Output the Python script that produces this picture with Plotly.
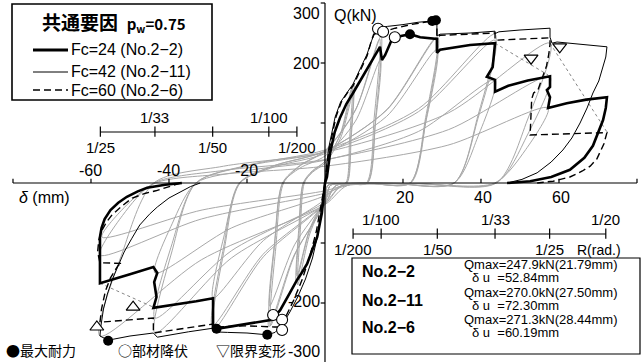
import plotly.graph_objects as go

W, H = 643, 362
X_RANGE = [-83.33, 81.54]
Y_RANGE = [-298.33, 305.0]

# ---------------- axis data ----------------
x_ticks = [-80, -60, -40, -20, 20, 40, 60, 80]
x_labels_neg = [-60, -40, -20]
x_labels_pos = [20, 40, 60]
y_ticks = [-300, -200, -100, 100, 200, 300]
y_labels = [300, 200, -200, -300]

# drift angle scale R(rad.) -> displacement (mm)
r_left_names = ['1/25', '1/33', '1/50', '1/100', '1/200']
r_left_mm = [-57.6, -43.6, -28.8, -14.4, -7.2]
r_left_above = [False, True, False, True, False]
r_right_names = ['1/200', '1/100', '1/50', '1/33', '1/25', '1/20']
r_right_mm = [7.2, 14.4, 28.8, 43.6, 57.6, 72.0]
r_right_above = [False, True, False, True, False, True]

# ---------------- gray inner loops (x mm, Q kN) ----------------
gray24_x = [
    [-7.2, -6.5, -5.5, -3.2, 0, 4.0, 7.2, 6.5, 5.5, 2.9, 0.7, 0, -4.0, -7.2],
    [-14.2, -12.8, -10.8, -6.4, 0, 7.8, 14.2, 12.8, 10.8, 5.7, 1.4, 0, -7.8, -14.2],
    [-28.7, -25.8, -21.8, -12.9, 0, 15.8, 28.7, 25.8, 21.8, 11.5, 2.9, 0, -15.8, -28.7],
    [-43.6, -39.2, -33.1, -19.6, 0, 24.0, 43.6, 39.2, 33.1, 17.4, 4.4, 0, -24.0, -43.6],
    [-57.7, -51.9, -43.9, -26.0, 0, 31.7, 57.7, 51.9, 43.9, 23.1, 5.8, 0, -31.7, -57.7],
    [-57.2, -51.5, -43.5, -25.7, 0, 31.5, 57.2, 51.5, 43.5, 22.9, 5.7, 0, -31.5, -57.2],
]
gray24_q = [
    [-155, -70, 0, 18, 33, 75, 150, 68, 0, -1, -4, -22, -78, -155],
    [-205, -92, 0, 25, 45, 103, 205, 92, 0, -1, -4, -29, -103, -205],
    [-192, -86, 0, 27, 49, 111, 222, 100, 0, -1, -4, -27, -96, -192],
    [-150, -68, 0, 21, 38, 86, 172, 77, 0, -1, -4, -21, -75, -150],
    [-120, -54, 0, 21, 39, 89, 177, 80, 0, -1, -4, -17, -60, -120],
    [-90, -41, 0, 15, 28, 63, 125, 56, 0, -1, -3, -13, -45, -90],
]
gray42_x = [
    [-7.4, -6.7, -5.6, -3.3, 0, 4.1, 7.4, 6.7, 5.6, 3.0, 0.7, 0, -4.1, -7.4],
    [-14.4, -13.0, -10.9, -6.5, 0, 7.9, 14.4, 13.0, 10.9, 5.8, 1.4, 0, -7.9, -14.4],
    [-28.7, -25.8, -21.8, -12.9, 0, 15.8, 28.7, 25.8, 21.8, 11.5, 2.9, 0, -15.8, -28.7],
    [-43.6, -39.2, -33.1, -19.6, 0, 24.0, 43.6, 39.2, 33.1, 17.4, 4.4, 0, -24.0, -43.6],
    [-57.7, -51.9, -43.9, -26.0, 0, 31.7, 57.7, 51.9, 43.9, 23.1, 5.8, 0, -31.7, -57.7],
]
gray42_q = [
    [-165, -74, 0, 20, 36, 83, 165, 74, 0, -1, -4, -23, -83, -165],
    [-240, -108, 0, 29, 54, 123, 245, 110, 0, -1, -4, -34, -120, -240],
    [-245, -110, 0, 29, 53, 122, 243, 109, 0, -1, -4, -34, -123, -245],
    [-250, -113, 0, 30, 55, 124, 248, 112, 0, -1, -4, -35, -125, -250],
    [-255, -115, 0, 28, 51, 117, 233, 105, 0, -1, -4, -36, -128, -255],
]
gray60_x = [
    [-7.0, -6.3, -5.3, -3.2, 0, 3.9, 7.0, 6.3, 5.3, 2.8, 0.7, 0, -3.9, -7.0],
    [-14.0, -12.6, -10.6, -6.3, 0, 7.7, 14.0, 12.6, 10.6, 5.6, 1.4, 0, -7.7, -14.0],
    [-28.9, -26.0, -22.0, -13.0, 0, 15.9, 28.9, 26.0, 22.0, 11.6, 2.9, 0, -15.9, -28.9],
    [-43.6, -39.2, -33.1, -19.6, 0, 24.0, 43.6, 39.2, 33.1, 17.4, 4.4, 0, -24.0, -43.6],
]
gray60_q = [
    [-170, -77, 0, 19, 36, 81, 162, 73, 0, -1, -4, -24, -85, -170],
    [-238, -107, 0, 29, 53, 120, 240, 108, 0, -1, -4, -33, -119, -238],
    [-238, -107, 0, 29, 53, 122, 243, 109, 0, -1, -4, -33, -119, -238],
    [-225, -101, 0, 29, 52, 119, 238, 107, 0, -1, -4, -32, -113, -225],
]

# ---------------- skeleton / final curves ----------------
fc24_pos_x = [0, 0.5, 1.3, 2.5, 3.8, 5.5, 7.2, 9.0, 10.8, 12.5, 14.1, 14.6, 15.4, 17.2, 19.5, 21.8, 24.4, 28.7, 28.7, 29.5,
              33.0, 37.2, 43.6, 43.0, 41.5, 43.6, 43.6, 47.0, 52.0, 57.7, 57.7, 56.9, 57.7, 57.2, 62.0, 67.0, 72.3, 72.0, 71.3, 70.0,
              68.7, 66.5, 62.8, 58.0, 52.6, 46.7]
fc24_pos_q = [0, 10, 50, 85, 108, 132, 150, 170, 190, 210, 227, 205, 213, 240, 245, 248, 243, 240, 217, 222,
              226, 230, 233, 193, 177, 172, 152, 162, 171, 178, 160, 155, 143, 125, 133, 139, 143, 125, 105, 82,
              62, 42, 22, 10, 3, 0]
fc24_neg_x = [0, -0.3, -0.8, -2.0, -3.3, -4.6, -6.0, -7.2, -9.0, -11.5, -13.6, -18.0, -22.0, -27.8, -28.7, -28.7, -33.0, -38.0, -44.0, -43.2,
              -43.8, -43.0, -44.0, -50.0, -57.7, -57.7, -57.3, -56.5, -55.0, -53.0, -50.8, -48.0, -45.6, -41.0, -36.7]
fc24_neg_q = [0, -20, -50, -90, -112, -135, -150, -162, -183, -212, -228, -233, -237, -243, -240, -192, -197, -202, -208, -190,
              -165, -150, -140, -152, -167, -90, -75, -60, -45, -33, -23, -14, -8, -3, 0]

fc42_pos_x = [0, 0.4, 1.0, 1.8, 2.6, 4.0, 5.5, 7.2, 9.0, 10.8, 12.0, 12.8, 13.6, 16.0, 20.0, 24.0, 27.5, 28.7, 28.7, 29.5,
              37.2, 43.6, 43.6, 44.6, 50.0, 57.7, 57.7, 58.2, 59.5, 66.0, 72.3, 72.0, 71.3, 70.2, 68.7, 67.2, 65.4, 63.3, 61.0, 58.0,
              54.4, 50.5, 46.7]
fc42_pos_q = [0, 30, 60, 88, 110, 135, 150, 165, 190, 215, 238, 250, 258, 261, 264, 268, 270, 268, 245, 248,
              250, 253, 249, 252, 255, 258, 243, 233, 235, 231, 227, 210, 193, 170, 150, 125, 100, 75, 55, 35,
              17, 6, 0]
fc42_neg_x = [0, -0.8, -1.8, -3.2, -5.0, -7.0, -9.0, -11.0, -12.8, -14.8, -20.0, -25.0, -28.7, -28.7, -35.0, -43.0, -44.0, -50.0, -55.6, -57.7,
              -57.5, -56.8, -55.8, -54.5, -53.0, -51.5, -49.5, -47.5, -45.0, -43.0, -40.0, -37.0, -34.5, -32.0]
fc42_neg_q = [0, -40, -85, -125, -160, -190, -215, -237, -249, -253, -250, -249, -248, -242, -248, -257, -250, -255, -262, -255,
              -240, -210, -185, -160, -137, -115, -92, -70, -52, -40, -25, -15, -6, 0]

fc60_pos_x = [0, 0.5, 1.2, 2.0, 2.8, 4.2, 5.7, 7.2, 9.0, 10.8, 11.8, 12.5, 14.9, 18.0, 22.0, 26.0, 28.4, 28.7, 28.7, 29.5,
              37.2, 43.6, 43.6, 50.0, 57.7, 57.7, 57.4, 56.8, 55.9, 54.6, 53.5, 53.0, 52.6, 62.0, 72.3, 71.5, 69.7, 68.0, 66.0, 62.8,
              58.5, 54.4]
fc60_pos_q = [0, 30, 60, 88, 110, 135, 150, 162, 188, 212, 235, 248, 252, 258, 264, 269, 271, 270, 243, 246,
              248, 250, 238, 240, 242, 232, 215, 195, 177, 155, 150, 140, 80, 82, 84, 65, 40, 28, 20, 10,
              3, 0]
fc60_neg_x = [0, -1.0, -2.2, -3.8, -5.8, -8.0, -10.0, -11.0, -13.0, -20.0, -28.7, -28.7, -36.0, -44.0, -44.0, -50.0, -57.7, -57.3, -56.3, -55.0,
              -53.0, -52.0, -57.7, -58.3, -58.0, -57.3, -56.0, -54.6, -52.0, -49.4, -46.0, -43.4, -40.0, -37.0]
fc60_neg_q = [0, -35, -80, -120, -160, -195, -222, -240, -240, -238, -240, -235, -242, -250, -225, -228, -232, -210, -180, -158,
              -137, -134, -133, -115, -95, -80, -65, -53, -38, -25, -17, -13, -6, 0]

# dotted degradation lines
dot_x = [[43.6, 57.2], [57.7, 72.3], [-57.7, -44.0]]
dot_q = [[233, 180], [233, 85], [-167, -207]]

# events
yield_x = [13.6, 14.9, 17.9, -13.3, -11.0, -11.0]
yield_q = [257, 252, 243, -220, -228, -245]
max_x = [21.79, 27.50, 28.44, -27.8, -14.8, -55.6]
max_q = [247.9, 270.0, 271.3, -243, -253, -263]
lim_pos_x = [52.84, 60.19]
lim_pos_q = [208, 227]
lim_neg_x = [-49.2, -58.5]
lim_neg_q = [-207, -240]

info_names = ['No.2−2', 'No.2−11', 'No.2−6']
info_qmax = ['Qmax=247.9kN(21.79mm)', 'Qmax=270.0kN(27.50mm)', 'Qmax=271.3kN(28.44mm)']
info_du = ['52.84mm', '72.30mm', '60.19mm']

legend_labels = ['Fc=24 (No.2−2)', 'Fc=42 (No.2−11)', 'Fc=60 (No.2−6)']

# ---------------- figure ----------------
fig = go.Figure()
GRAY = '#a8a8a8'
NUM_FONT = 'Liberation Sans, Arial, sans-serif'
JP_FONT = 'Noto Sans CJK JP, sans-serif'


def join(loops_x, loops_q):
    xs, qs = [], []
    for lx, lq in zip(loops_x, loops_q):
        xs += lx + [None]
        qs += lq + [None]
    return xs, qs


for lx, lq in [(gray24_x, gray24_q), (gray42_x, gray42_q), (gray60_x, gray60_q)]:
    xs, qs = join(lx, lq)
    fig.add_trace(go.Scatter(x=xs, y=qs, mode='lines',
                             line=dict(color=GRAY, width=1.0, shape='spline', smoothing=0.8),
                             hoverinfo='skip', showlegend=False))

xs, qs = join(dot_x, dot_q)
fig.add_trace(go.Scatter(x=xs, y=qs, mode='lines', line=dict(color='#777777', width=0.9, dash='dot'),
                         hoverinfo='skip', showlegend=False))

for x, q, w, d in [(fc42_pos_x, fc42_pos_q, 1.0, 'solid'), (fc42_neg_x, fc42_neg_q, 1.0, 'solid'),
                   (fc60_pos_x, fc60_pos_q, 1.4, '7px,4px'), (fc60_neg_x, fc60_neg_q, 1.4, '7px,4px'),
                   (fc24_pos_x, fc24_pos_q, 2.6, 'solid'), (fc24_neg_x, fc24_neg_q, 2.6, 'solid')]:
    fig.add_trace(go.Scatter(x=x, y=q, mode='lines', line=dict(color='black', width=w, dash=d),
                             hoverinfo='skip', showlegend=False))

fig.add_trace(go.Scatter(x=yield_x, y=yield_q, mode='markers',
                         marker=dict(symbol='circle', size=11, color='white', line=dict(color='black', width=1.1)),
                         hoverinfo='skip', showlegend=False))
fig.add_trace(go.Scatter(x=max_x, y=max_q, mode='markers',
                         marker=dict(symbol='circle', size=10, color='black'),
                         hoverinfo='skip', showlegend=False))
fig.add_trace(go.Scatter(x=lim_pos_x, y=lim_pos_q, mode='markers',
                         marker=dict(symbol='triangle-down', size=12, color='white', line=dict(color='black', width=1.2)),
                         hoverinfo='skip', showlegend=False))
fig.add_trace(go.Scatter(x=lim_neg_x, y=lim_neg_q, mode='markers',
                         marker=dict(symbol='triangle-up', size=12, color='white', line=dict(color='black', width=1.2)),
                         hoverinfo='skip', showlegend=False))

shapes = []
ann = []
BLK = dict(color='black', width=1.2)

# main axes
shapes.append(dict(type='line', xref='x', yref='y', x0=-80, x1=80, y0=0, y1=0, line=BLK))
shapes.append(dict(type='line', xref='x', yref='y', x0=0, x1=0, y0=-310, y1=300, line=BLK))
for t in x_ticks:
    shapes.append(dict(type='line', xref='x', yref='y', x0=t, x1=t, y0=0, y1=7, line=BLK))
for t in y_ticks:
    shapes.append(dict(type='line', xref='x', yref='y', x0=0, x1=-1.1, y0=t, y1=t, line=BLK))

for t in x_labels_neg:
    ann.append(dict(x=t, y=0, xref='x', yref='y', text=str(t), showarrow=False, xanchor='center', yanchor='bottom',
                    yshift=2, font=dict(family=NUM_FONT, size=16, color='black')))
for t in x_labels_pos:
    ann.append(dict(x=t, y=0, xref='x', yref='y', text=str(t), showarrow=False, xanchor='center', yanchor='top',
                    yshift=-4, xshift=2, font=dict(family=NUM_FONT, size=16, color='black')))
# label anchor values kept inside the visible range; shifts put them where the reference draws them
y_label_anchor = {300: 300, 200: 200, -200: -200, -300: -280}
y_label_shift = {300: -10, 200: 0, -200: 2, -300: 0}
for t in y_labels:
    ann.append(dict(x=0, y=y_label_anchor[t], xref='x', yref='y', text=str(t), showarrow=False, xanchor='right',
                    yanchor='middle', xshift=-3, yshift=y_label_shift[t],
                    font=dict(family=NUM_FONT, size=16, color='black')))

# R axes
for names, mm, above, qline in [(r_left_names, r_left_mm, r_left_above, 85),
                                 (r_right_names, r_right_mm, r_right_above, -85)]:
    shapes.append(dict(type='line', xref='x', yref='y', x0=min(mm), x1=max(mm), y0=qline, y1=qline, line=BLK))
    for n, m, a in zip(names, mm, above):
        shapes.append(dict(type='line', xref='x', yref='y', x0=m, x1=m, y0=qline - 8, y1=qline + 9, line=BLK))
        ann.append(dict(x=m, y=qline, xref='x', yref='y', text=n, showarrow=False, xanchor='center',
                        yanchor='bottom' if a else 'top', yshift=4 if a else -5,
                        font=dict(family=NUM_FONT, size=15, color='black')))
ann.append(dict(x=64.0, y=-85, xref='x', yref='y', text='R(rad.)',
                showarrow=False, xanchor='left', yanchor='top', yshift=-6,
                font=dict(family=NUM_FONT, size=14, color='black')))

# axis titles
ann.append(dict(x=0, y=300, xref='x', yref='y', text='Q(kN)', showarrow=False, xanchor='left', yanchor='middle',
                xshift=7, yshift=-12, font=dict(family=NUM_FONT, size=16, color='black')))
ann.append(dict(x=-79, y=0, xref='x', yref='y', text='<i>δ</i> (mm)', showarrow=False, xanchor='left',
                yanchor='middle', yshift=-14, font=dict(family=NUM_FONT, size=16, color='black')))


def pp(px, py):
    return px / W, 1 - py / H


# legend box
x0p, y0p = pp(12, 4)
x1p, y1p = pp(212, 100)
shapes.append(dict(type='rect', xref='paper', yref='paper', x0=x0p, x1=x1p, y0=y1p, y1=y0p,
                   line=dict(color='black', width=1.6), fillcolor='white', layer='above'))
tx, ty = pp(40, 22)
ann.append(dict(x=tx, y=ty, xref='paper', yref='paper', showarrow=False, xanchor='left', yanchor='middle',
                text='<b>共通要因  <span style="font-size:15px">p<sub>w</sub>=0.75</span></b>',
                font=dict(family=JP_FONT, size=19, color='black')))
for i, (lab, w, d) in enumerate(zip(legend_labels, [2.8, 1.0, 1.4], ['solid', 'solid', '7px,4px'])):
    yy = [50, 72, 90][i]
    a, b = pp(33, yy)
    c, _ = pp(68, yy)
    shapes.append(dict(type='line', xref='paper', yref='paper', x0=a, x1=c, y0=b, y1=b,
                       line=dict(color='black', width=w, dash=d), layer='above'))
    lx, ly = pp(69, yy)
    ann.append(dict(x=lx, y=ly, xref='paper', yref='paper', showarrow=False, xanchor='left', yanchor='middle',
                    text=lab, font=dict(family=NUM_FONT, size=16, color='black')))

# info box
x0p, y0p = pp(352, 258)
x1p, y1p = pp(640, 354)
shapes.append(dict(type='rect', xref='paper', yref='paper', x0=x0p, x1=x1p, y0=y1p, y1=y0p,
                   line=dict(color='black', width=1.2), fillcolor='white', layer='above'))
for i in range(3):
    nx, ny = pp(360, [271, 300, 327][i])
    ann.append(dict(x=nx, y=ny, xref='paper', yref='paper', showarrow=False, xanchor='left', yanchor='middle',
                    text='<b>' + info_names[i] + '</b>', font=dict(family=NUM_FONT, size=16, color='black')))
    qx, qy = pp(462, [264, 292, 319][i])
    ann.append(dict(x=qx, y=qy, xref='paper', yref='paper', showarrow=False, xanchor='left', yanchor='middle',
                    text=info_qmax[i], font=dict(family=NUM_FONT, size=13, color='black')))
    dx, dy = pp(470, [277, 305, 332][i])
    ann.append(dict(x=dx, y=dy, xref='paper', yref='paper', showarrow=False, xanchor='left', yanchor='middle',
                    text='δ u  =' + info_du[i], font=dict(family=NUM_FONT, size=13, color='black')))

# bottom symbol legend
for txt, px in [('●最大耐力', 4), ('○部材降伏', 116), ('▽限界変形', 214)]:
    bx, by = pp(px, 350)
    ann.append(dict(x=bx, y=by, xref='paper', yref='paper', showarrow=False, xanchor='left', yanchor='middle',
                    text=txt, font=dict(family=JP_FONT, size=14, color='black')))

fig.update_layout(
    width=W, height=H, autosize=False,
    margin=dict(l=0, r=0, t=0, b=0, pad=0),
    paper_bgcolor='white', plot_bgcolor='white',
    xaxis=dict(range=X_RANGE, visible=False, fixedrange=True),
    yaxis=dict(range=Y_RANGE, visible=False, fixedrange=True),
    shapes=shapes, annotations=ann, showlegend=False,
)

fig.write_html('out.html')
